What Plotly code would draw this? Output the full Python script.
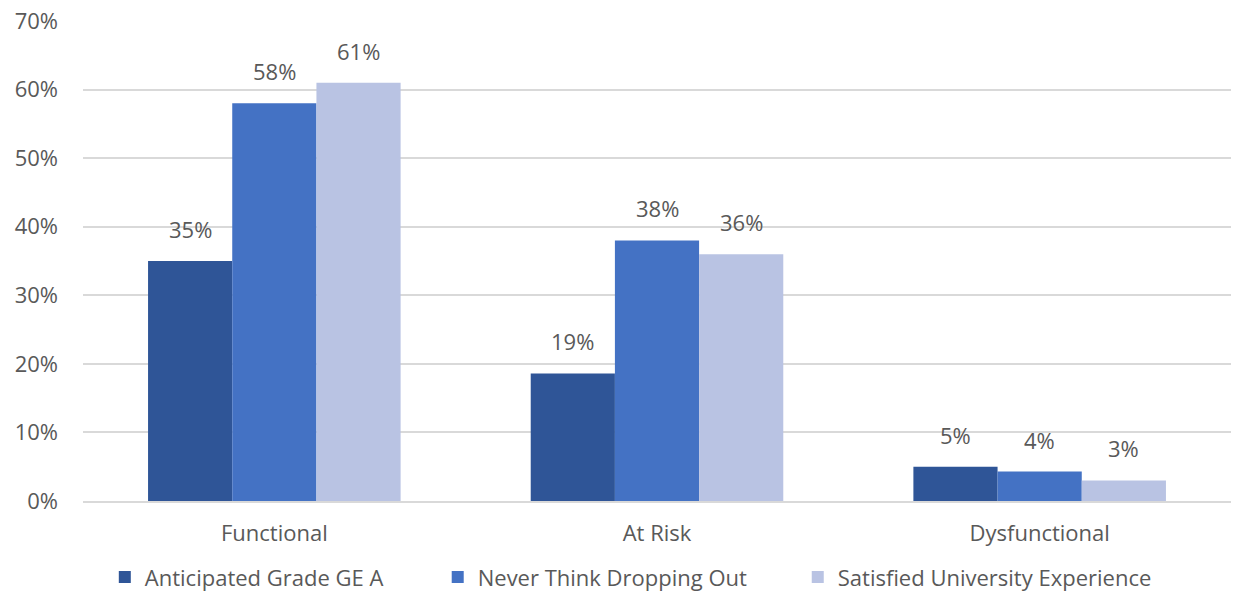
import plotly.graph_objects as go

categories = ["Functional", "At Risk", "Dysfunctional"]
series_names = ["Anticipated Grade GE A", "Never Think Dropping Out", "Satisfied University Experience"]
anticipated_grade = [0.35, 0.186, 0.05]
never_dropping = [0.58, 0.38, 0.043]
satisfied_experience = [0.61, 0.36, 0.03]
y_ticks = [0, 0.1, 0.2, 0.3, 0.4, 0.5, 0.6, 0.7]

colors = ["#2F5597", "#4472C4", "#B9C3E3"]
text_color = "#595959"
font_family = "'Open Sans', sans-serif"
font_size = 22
bargap = 0.34

# each series gets its own legend box so the entries can be spaced freely
legend_ids = ["legend", "legend2", "legend3"]
legend_x = [0.085, 0.355, 0.647]

fig = go.Figure()
all_series = [anticipated_grade, never_dropping, satisfied_experience]
for name, vals, col, lg in zip(series_names, all_series, colors, legend_ids):
    fig.add_trace(go.Bar(x=categories, y=vals, name=name, marker_color=col,
                         marker_line_width=0, legend=lg))

# value labels above each bar
bar_w = (1 - bargap) / len(all_series)
for j, vals in enumerate(all_series):
    for i, v in enumerate(vals):
        fig.add_annotation(x=i + (j - 1) * bar_w, y=v, text=f"{v:.0%}",
                           showarrow=False, yanchor="bottom", yshift=15,
                           font=dict(size=font_size, color=text_color, family=font_family))

legend_style = dict(orientation="h", xref="container", yref="container",
                    xanchor="left", y=0.025, yanchor="middle",
                    font=dict(size=font_size, color=text_color, family=font_family),
                    itemwidth=30, bgcolor="rgba(0,0,0,0)")

fig.update_layout(
    width=1233, height=592,
    barmode="group", bargap=bargap, bargroupgap=0,
    plot_bgcolor="white", paper_bgcolor="white",
    margin=dict(l=83, r=2, t=21, b=91, autoexpand=False),
    font=dict(family=font_family, size=font_size, color=text_color),
    showlegend=True,
    legend=dict(x=legend_x[0], **legend_style),
    legend2=dict(x=legend_x[1], **legend_style),
    legend3=dict(x=legend_x[2], **legend_style),
)
fig.update_xaxes(showgrid=False, showline=True, linecolor="#D9D9D9", linewidth=2,
                 ticks="", ticklabelstandoff=12,
                 tickfont=dict(size=font_size, color=text_color))
fig.update_yaxes(range=[0, 0.7], tickvals=y_ticks, tickformat=".0%",
                 showgrid=True, gridcolor="#D9D9D9", gridwidth=2,
                 zeroline=False, showline=False, ticks="", ticklabelstandoff=24,
                 tickfont=dict(size=font_size, color=text_color))

fig.write_html("out.html")
